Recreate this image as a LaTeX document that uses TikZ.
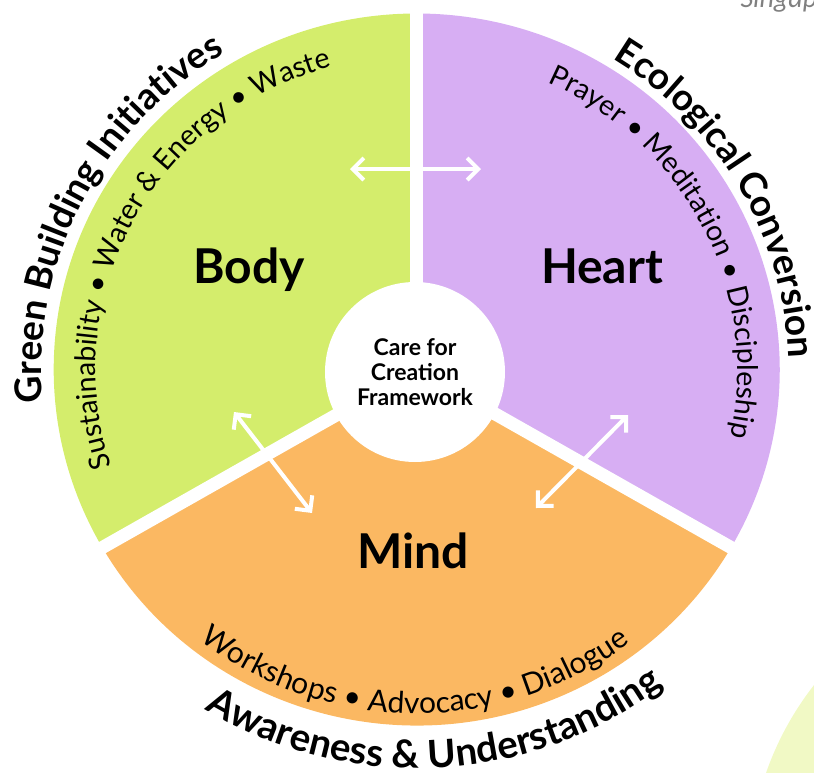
\documentclass[tikz,border=0pt]{standalone}
\usepackage{fontspec}
\setmainfont{Lato}
\newfontfamily\notefont{Carlito}
\usetikzlibrary{arrows.meta,decorations.text,positioning}

\definecolor{bodygreen}{HTML}{D4ED6C}
\definecolor{heartlilac}{HTML}{D7AEF3}
\definecolor{mindorange}{HTML}{FBB862}
\definecolor{palegreen}{HTML}{F1F9C5}
\definecolor{notegrey}{HTML}{808080}

\newcommand{\partfont}{\bfseries\fontsize{48}{52}\selectfont}
\newcommand{\hubfont}{\bfseries\fontsize{23}{25}\selectfont}
\newcommand{\rimfont}{\bfseries\fontsize{37}{40}\selectfont}
\newcommand{\lowrimfont}{\bfseries\fontsize{38.5}{40}\selectfont}
\newcommand{\itemfont}{\fontsize{28.5}{30}\selectfont}
\newcommand{\lowitemfont}{\fontsize{30}{32}\selectfont}

\begin{document}
\begin{tikzpicture}
    [x=1pt,y=1pt,
     part/.style={font=\partfont,anchor=base},
     hub/.style={circle,fill=white,minimum size=180pt,inner sep=0pt,font=\hubfont,align=center},
     gap/.style={white,line width=13pt},
     link/.style={{Straight Barb[length=11pt,width=22pt]}-{Straight Barb[length=11pt,width=22pt]},
                  white,line width=4pt}]

    \useasboundingbox (-416.7,-402.5) rectangle (397.3,369.5);
    \clip (-416.7,-402.5) rectangle (397.3,369.5);

    % the three parts of the wheel
    \fill[bodygreen]  (0,0) -- (90:363 and 356)  arc[start angle=90,end angle=210,x radius=363,y radius=356] -- cycle;
    \fill[heartlilac] (0,0) -- (-30:363 and 356) arc[start angle=-30,end angle=90,x radius=363,y radius=356] -- cycle;
    \fill[mindorange] (0,0) -- (210:363 and 356) arc[start angle=210,end angle=330,x radius=363,y radius=356] -- cycle;

    \draw[gap] (0,0) -- (90:420 and 412);
    \draw[gap] (0,0) -- (210:420 and 412);
    \draw[gap] (0,0) -- (330:420 and 412);

    \fill[palegreen] (639.3,-504.5) circle[radius=307];

    \node[hub]  (core)  at (-1.7,-2.5)     {Care for\\Creation\\Framework};
    \node[part] (body)  at (-167.7,86.5)   {Body};
    \node[part] (heart) at (185.3,86.5)    {Heart};
    \node[part] (mind)  at (-3.7,-198.5)   {Mind};

    % arrows between the parts
    \coordinate (body-top)   at (-66.7,200.5);
    \coordinate (heart-top)  at (64.3,200.5);
    \coordinate (body-low)   at (-182.7,-42.5);
    \coordinate (mind-left)  at (-104.7,-143.5);
    \coordinate (heart-low)  at (211.3,-45.5);
    \coordinate (mind-right) at (119.3,-138.5);
    \draw[link] (body-top) -- (heart-top);
    \draw[link] (body-low) -- (mind-left);
    \draw[link] (heart-low) -- (mind-right);

    % texts round the rim
    \path[decorate,decoration={text along path,text align=center,
          text={|\rimfont|Green Building Initiatives}}]
        (193:375 and 368) arc[start angle=193,end angle=113,x radius=375,y radius=368];
    \path[decorate,decoration={text along path,text align=center,
          text={|\rimfont|Ecological Conversion}}]
        (65:372 and 365) arc[start angle=65,end angle=-5,x radius=372,y radius=365];
    \path[decorate,decoration={text along path,text align=center,
          text={|\lowrimfont|Awareness {\&} Understanding}}]
        (223:405 and 399) arc[start angle=223,end angle=323,x radius=405,y radius=399];

    \path[decorate,decoration={text along path,text align=center,
          text={|\itemfont|Sustainability • Water {\&} Energy • Waste}}]
        (206.7:321 and 314) arc[start angle=206.7,end angle=96.7,x radius=321,y radius=314];
    \path[decorate,decoration={text along path,text align=center,
          text={|\itemfont|Prayer • Meditation • Discipleship}}]
        (76.7:321 and 314) arc[start angle=76.7,end angle=-23.3,x radius=321,y radius=314];
    \path[decorate,decoration={text along path,text align=center,
          text={|\lowitemfont|Workshops • Advocacy • Dialogue}}]
        (219.6:351 and 344) arc[start angle=219.6,end angle=319.6,x radius=351,y radius=344];

    \node[anchor=base west,font=\notefont\itshape\fontsize{28}{30}\selectfont,text=notegrey]
        (place) at (320.3,361.5) {Singap};

\end{tikzpicture}
\end{document}
